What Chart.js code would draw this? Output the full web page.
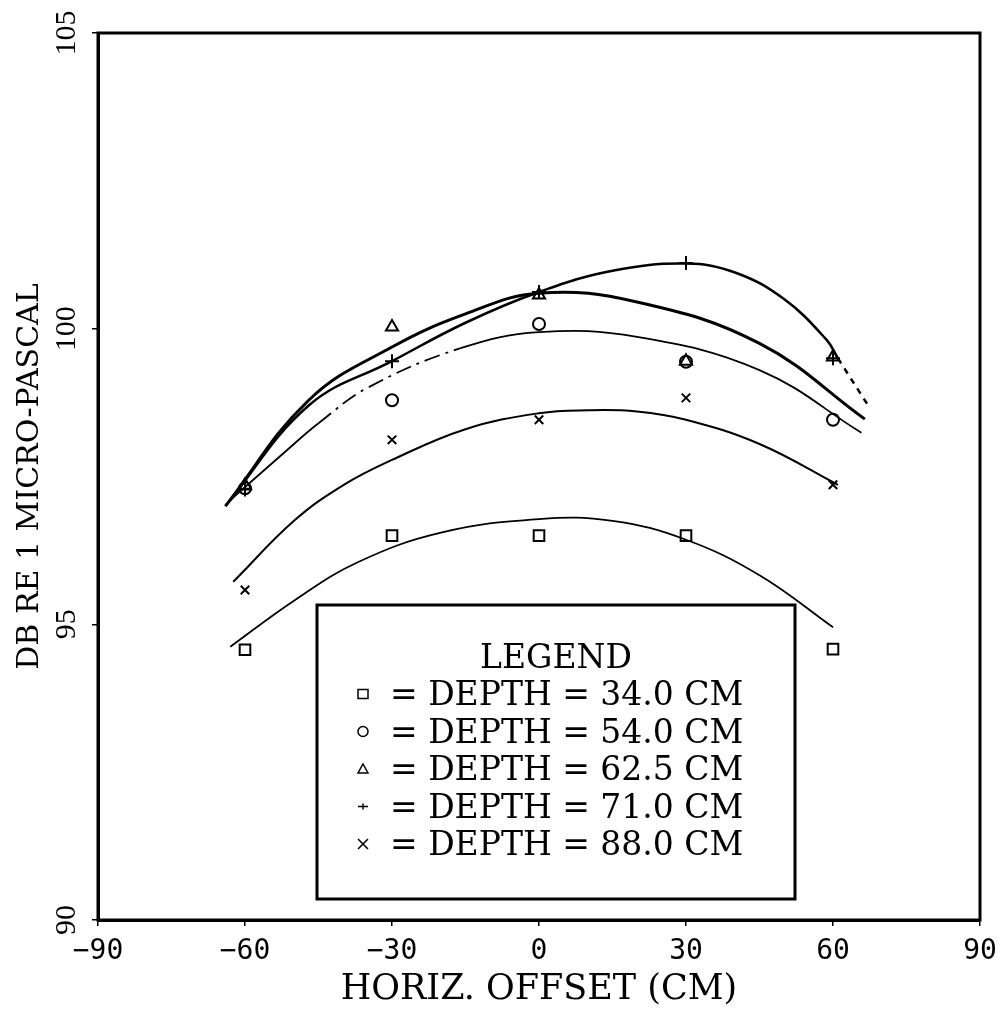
<!DOCTYPE html>
<html>
<head>
<meta charset="utf-8">
<script src="https://cdn.jsdelivr.net/npm/chart.js@4.4.1/dist/chart.umd.min.js"></script>
<style>
body { margin: 0; background: #fff; }
#wrap { position: relative; width: 1001px; height: 1017px; }
</style>
</head>
<body>
<div id="wrap"><canvas id="chart"></canvas></div>
<script>
// measured offsets (cm) and levels (dB re 1 micro-pascal)
var offsets = [-60, -30, 0, 30, 60];
var depth34 = [94.57, 96.5, 96.5, 96.5, 94.58];
var depth54 = [97.3, 98.79, 100.08, 99.44, 98.46];
var depth625 = [97.35, 100.03, 100.57, 99.45, 99.52];
var depth71 = [97.28, 99.45, 100.62, 101.11, 99.5];
var depth88 = [95.58, 98.12, 98.46, 98.83, 97.36];

// fitted curves
var fit34X = [-63, -50, -37, -20, 0, 15, 30, 45, 60];
var fit34Y = [94.62, 95.4, 96.05, 96.55, 96.78, 96.75, 96.43, 95.83, 94.95];
var fit54X = [-63, -50, -45, -35, -16, 0, 20, 45, 65.8];
var fit54Y = [97.1, 98.05, 98.4, 99.0, 99.67, 99.94, 99.86, 99.3, 98.24];
var fit625X = [-64, -47, -30, -15, 0, 20, 45, 66.5];
var fit625Y = [97.0, 98.79, 99.69, 100.25, 100.6, 100.45, 99.75, 98.47];
var fit71X = [-64, -47, -30, -15, 0, 15, 30, 40, 50, 58.7, 61, 67.5];
var fit71Y = [97.0, 98.7, 99.45, 100.1, 100.62, 100.98, 101.1, 100.95, 100.5, 99.81, 99.5, 98.66];
var fit88X = [-62.4, -50, -40, -30, -15, 0, 10, 20, 30, 45, 61];
var fit88Y = [95.72, 96.75, 97.35, 97.78, 98.3, 98.57, 98.62, 98.6, 98.46, 98.05, 97.36];

var legendLabels = ["= DEPTH = 34.0 CM", "= DEPTH = 54.0 CM", "= DEPTH = 62.5 CM", "= DEPTH = 71.0 CM", "= DEPTH = 88.0 CM"];
var legendSymbols = ["rect", "circle", "triangle", "cross", "crossRot"];

var xTicks = [-90, -60, -30, 0, 30, 60, 90];
var yTicks = [90, 95, 100, 105];

function pts(xs, ys) {
	var out = [];
	for (var i = 0; i < xs.length; i++) out.push({x: xs[i], y: ys[i]});
	return out;
}

function markers(ys, style, r) {
	return {
		type: "scatter",
		data: pts(offsets, ys),
		showLine: false,
		pointStyle: style,
		pointRadius: r || 6,
		pointBorderWidth: 2,
		borderColor: "#000",
		backgroundColor: "rgba(0,0,0,0)"
	};
}

function curve(xs, ys, width) {
	return {
		type: "line",
		data: pts(xs, ys),
		borderColor: "#000",
		borderWidth: width,
		pointRadius: 0,
		fill: false,
		tension: 0.4
	};
}

var c54 = curve(fit54X, fit54Y, 1.8);
c54.segment = {
	borderDash: function(ctx) { return (ctx.p0.parsed.x >= -45 && ctx.p1.parsed.x <= -16) ? [16, 6, 3, 6] : undefined; }
};
var c71 = curve(fit71X, fit71Y, 2.5);
c71.segment = {
	borderDash: function(ctx) { return ctx.p0.parsed.x >= 61 ? [6, 6] : undefined; }
};

// frame on all four sides + legend box
var framePlugin = {
	id: "frame",
	afterDraw: function(chart) {
		var ctx = chart.ctx;
		var a = chart.chartArea;
		ctx.save();
		ctx.strokeStyle = "#000";
		ctx.lineWidth = 3;
		ctx.strokeRect(a.left, a.top, a.right - a.left, a.bottom - a.top);

		// legend
		ctx.lineWidth = 3;
		ctx.strokeRect(317, 605, 478, 294);
		ctx.fillStyle = "#000";
		ctx.font = "33px 'DejaVu Serif'";
		ctx.textBaseline = "alphabetic";
		ctx.textAlign = "center";
		ctx.fillText("LEGEND", 556, 668);
		ctx.textAlign = "left";
		for (var i = 0; i < legendLabels.length; i++) {
			var base = 705 + i * 37.5;
			ctx.fillText(legendLabels[i], 390, base);
			drawSymbol(ctx, legendSymbols[i], 363, base - 11, 5);
		}
		ctx.restore();
	}
};

function drawSymbol(ctx, s, x, y, r) {
	ctx.save();
	ctx.lineWidth = 1.5;
	ctx.strokeStyle = "#000";
	ctx.beginPath();
	if (s === "rect") {
		ctx.rect(x - r, y - r * 0.9, 2 * r, 1.8 * r);
	} else if (s === "circle") {
		ctx.arc(x, y, r, 0, Math.PI * 2);
	} else if (s === "triangle") {
		ctx.moveTo(x, y - r);
		ctx.lineTo(x + r, y + r * 0.8);
		ctx.lineTo(x - r, y + r * 0.8);
		ctx.closePath();
	} else if (s === "cross") {
		ctx.moveTo(x - r, y); ctx.lineTo(x + r, y);
		ctx.moveTo(x, y - r * 0.6); ctx.lineTo(x, y + r * 0.6);
	} else {
		ctx.moveTo(x - r, y - r); ctx.lineTo(x + r, y + r);
		ctx.moveTo(x + r, y - r); ctx.lineTo(x - r, y + r);
	}
	ctx.stroke();
	ctx.restore();
}

var ctx = document.getElementById("chart").getContext("2d");
new Chart(ctx, {
	data: {
		datasets: [
			curve(fit34X, fit34Y, 1.8),
			c54,
			curve(fit625X, fit625Y, 3),
			c71,
			curve(fit88X, fit88Y, 2),
			markers(depth34, "rect", 7.5),
			markers(depth54, "circle"),
			markers(depth625, "triangle", 7),
			markers(depth71, "cross", 7),
			markers(depth88, "crossRot")
		]
	},
	options: {
		responsive: true,
		maintainAspectRatio: false,
		animation: false,
		layout: { padding: { top: 33, right: 21, bottom: 0, left: 0 } },
		plugins: { legend: { display: false }, tooltip: { enabled: false } },
		scales: {
			x: {
				type: "linear",
				min: -90, max: 90,
				afterBuildTicks: function(s) { s.ticks = xTicks.map(function(v) { return {value: v}; }); },
				afterFit: function(s) { s.height = 97; s.paddingLeft = 0; s.paddingRight = 0; },
				ticks: {
					color: "#000",
					padding: 9,
					maxRotation: 0,
					font: { family: "'DejaVu Sans Mono'", size: 28 },
					callback: function(v) { return v < 0 ? "\u2212" + Math.abs(v) : String(v); }
				},
				grid: { drawOnChartArea: false, drawTicks: true, tickLength: 6, color: "#000", lineWidth: 1.5 },
				border: { display: true, color: "#000", width: 3 },
				title: {
					display: true,
					text: "HORIZ. OFFSET (CM)",
					color: "#000",
					font: { family: "'DejaVu Serif'", size: 35, lineHeight: 1.2 },
					padding: { top: 0, bottom: 6 }
				}
			},
			y: {
				type: "linear",
				min: 90, max: 105,
				afterBuildTicks: function(s) { s.ticks = yTicks.map(function(v) { return {value: v}; }); },
				afterFit: function(s) { s.width = 98; s.paddingTop = 0; s.paddingBottom = 0; },
				ticks: {
					color: "#000",
					padding: 2,
					minRotation: 90,
					maxRotation: 90,
					crossAlign: "center",
					font: { family: "'Liberation Serif'", size: 30 }
				},
				grid: { drawOnChartArea: false, drawTicks: true, tickLength: 6, color: "#000", lineWidth: 1.5 },
				border: { display: true, color: "#000", width: 3 },
				title: {
					display: true,
					text: "DB RE 1 MICRO-PASCAL",
					color: "#000",
					font: { family: "'DejaVu Serif'", size: 30, lineHeight: 1.2 },
					padding: { top: 12, bottom: 0 }
				}
			}
		}
	},
	plugins: [framePlugin]
});
</script>
</body>
</html>
